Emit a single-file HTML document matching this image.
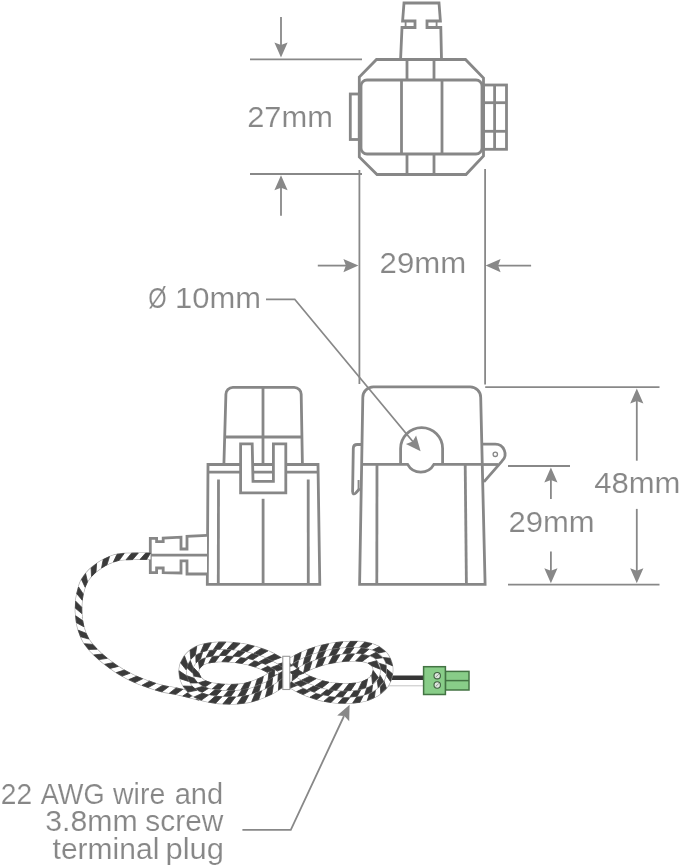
<!DOCTYPE html>
<html><head><meta charset="utf-8">
<style>
html,body{margin:0;padding:0;background:#fff;}
body{width:679px;height:868px;overflow:hidden;}
svg{display:block;}
text{font-family:"Liberation Sans",sans-serif;fill:#878787;font-size:29.5px;stroke:#fff;stroke-width:0.15px;}
</style></head>
<body>
<svg width="679" height="868" viewBox="0 0 679 868">
<!-- ===== TOP VIEW ===== -->
<g fill="none" stroke="#878787" stroke-width="2.8" stroke-linejoin="miter">
  <!-- top tab -->
  <path d="M400.6,59 L402,27.5 L415,27.5 L415,21 L402.6,21 L404,3 L439,3 L440.4,21 L427,21 L427,27.5 L440.8,27.5 L441.5,59"/>
  <line x1="405.6" y1="21" x2="405.6" y2="27.5" stroke-width="1.8"/>
  <line x1="436.6" y1="21" x2="436.6" y2="27.5" stroke-width="1.8"/>
  <!-- octagon -->
  <path d="M376.5,59.5 L465.5,59.5 L483.5,78 L483.5,156 L466,174.5 L377,174.5 L359.3,157 L359.3,77 Z"/>
  <!-- inner rounded rect -->
  <rect x="361" y="80" width="121" height="74" rx="6"/>
  <line x1="401.5" y1="80" x2="401.5" y2="154"/>
  <line x1="442" y1="80" x2="442" y2="154"/>
  <line x1="407" y1="59.5" x2="407" y2="80"/>
  <line x1="434" y1="59.5" x2="434" y2="80"/>
  <line x1="407" y1="154" x2="407" y2="174.5"/>
  <line x1="434" y1="154" x2="434" y2="174.5"/>
  <!-- left tab -->
  <rect x="350.3" y="94" width="9" height="45.5"/>
  <!-- right connector -->
  <rect x="483.5" y="85" width="23" height="64.3"/>
  <line x1="494.6" y1="85" x2="494.6" y2="149.3"/>
  <line x1="483.5" y1="102.7" x2="506.5" y2="102.7"/>
  <line x1="483.5" y1="131.3" x2="506.5" y2="131.3"/>
</g>

<!-- ===== DIMENSIONS ===== -->
<g fill="none" stroke="#888" stroke-width="1.8">
  <!-- 27mm -->
  <line x1="250" y1="59.4" x2="362" y2="59.4"/>
  <line x1="250" y1="174" x2="362" y2="174"/>
  <line x1="281" y1="16.9" x2="281" y2="46"/>
  <line x1="281" y1="187" x2="281" y2="215.7"/>
  <!-- ext lines -->
  <line x1="359.4" y1="170" x2="359.4" y2="384"/>
  <line x1="485.1" y1="169" x2="485.1" y2="384.6"/>
  <line x1="485.2" y1="387.2" x2="659.5" y2="387.2"/>
  <!-- 29mm top -->
  <line x1="317.8" y1="265.6" x2="347" y2="265.6"/>
  <line x1="497" y1="265.6" x2="531.1" y2="265.6"/>
  <!-- leader Ø -->
  <polyline points="266,299.3 294.7,299.3 413,441.8"/>
  <!-- 48mm -->
  <line x1="508" y1="584.6" x2="659.5" y2="584.6"/>
  <line x1="636.8" y1="400" x2="636.8" y2="460.7"/>
  <line x1="636.8" y1="508.9" x2="636.8" y2="571.5"/>
  <!-- 29mm lower -->
  <line x1="508" y1="466" x2="570" y2="466"/>
  <line x1="550.9" y1="479" x2="550.9" y2="498.9"/>
  <line x1="550.9" y1="551.6" x2="550.9" y2="571.5"/>
  <!-- bottom leader -->
  <polyline points="242.4,829.8 290.8,829.8 344,716"/>
</g>
<g fill="#888" stroke="none">
  <polygon points="281.0,57.6 274.4,42.6 281.0,45.1 287.6,42.6"/>
  <polygon points="281.0,175.3 287.6,190.3 281.0,187.8 274.4,190.3"/>
  <polygon points="358.4,265.6 343.4,272.2 345.9,265.6 343.4,259.0"/>
  <polygon points="485.6,265.6 500.6,259.0 498.1,265.6 500.6,272.2"/>
  <polygon points="636.8,388.4 643.4,403.4 636.8,400.9 630.2,403.4"/>
  <polygon points="636.8,583.3 630.2,568.3 636.8,570.8 643.4,568.3"/>
  <polygon points="550.9,467.4 557.5,482.4 550.9,479.9 544.3,482.4"/>
  <polygon points="550.9,583.3 544.3,568.3 550.9,570.8 557.5,568.3"/>
  <polygon points="420.6,451.2 405.9,443.9 412.6,441.6 416.1,435.4"/>
  <polygon points="349.6,704.8 349.2,721.2 344.3,716.1 337.2,715.6"/>
</g>

<!-- ===== SIDE VIEW CT ===== -->
<g fill="none" stroke="#878787" stroke-width="2.8">
  <path d="M223.9,464 L225.9,394.5 A7,7 0 0 1 232.9,387.3 L294.2,387.3 A7,7 0 0 1 301.2,394.5 L302.4,464"/>
  <line x1="263" y1="387.3" x2="263" y2="464"/>
  <line x1="225" y1="437" x2="301.6" y2="437"/>
  <path d="M208,464.5 L318,464.5 L319.8,584.3 L207.3,584.3 Z"/>
  <line x1="208" y1="472.2" x2="318" y2="472.2"/>
  <line x1="218.5" y1="479.6" x2="218.3" y2="584"/>
  <line x1="308.2" y1="479.6" x2="308.3" y2="584"/>
  <line x1="263.1" y1="498.8" x2="263.1" y2="584"/>
  <path d="M240.6,443.8 L252.2,443.8 L253,481.4 L273.4,481.4 L273.4,443.8 L285.8,443.8 L285.8,492.9 L240.6,492.9 Z" fill="#fff"/>
  <!-- connector -->
  <path d="M207,535.3 L187,536.3 L187,549 L181,549 L181,537.2 L163.2,538 L163.2,541.6 L156.6,541.6 L156.6,538.3 L150.3,538.3 L150.3,572.7 L156.6,572.7 L156.6,568 L163.2,568 L163.2,572.7 L181,573 L181,560.8 L187,560.8 L187,574 L207,574" fill="#fff"/>
  <line x1="150.3" y1="555.2" x2="207" y2="555.2"/>
</g>

<!-- ===== FRONT VIEW CT ===== -->
<g fill="none" stroke="#878787" stroke-width="2.8">
  <path d="M359.6,584.4 L362.8,397.5 A10.5,10.5 0 0 1 373.3,386.9 L470.2,386.9 A10.5,10.5 0 0 1 480.7,397.5 L485.1,584.4 Z"/>
  <path d="M361.2,464.4 L407.6,464.4 A15,15 0 0 0 433.9,464.4 L483,464.4"/>
  <path d="M400.6,464.4 L400.6,448.6 A21,21 0 0 1 442.6,448.6 L442.6,464.4"/>
  <line x1="377" y1="464.4" x2="376.8" y2="584.4"/>
  <line x1="465.2" y1="464.4" x2="466.4" y2="584.4"/>
  <!-- left tab -->
  <path d="M361,444.5 L357.3,444.5 Q353.3,444.5 353.3,448.5 L352.6,491.5 Q352.8,495.5 355.8,493 L359.8,488.5"/>
  <line x1="358.6" y1="480" x2="358.6" y2="490" stroke-width="2"/>
  <!-- right tab -->
  <path d="M482,444.2 L495,444.2 A9.8,9.8 0 0 1 502,461.1 L483.9,481.9"/>
  <line x1="483" y1="464.5" x2="498" y2="464.5"/>
  <circle cx="495.3" cy="454.3" r="2.2" stroke-width="1.3"/>
</g>

<!-- ===== TEXT ===== -->
<g style="filter:grayscale(1)">
<text x="247.2" y="126.6" textLength="85.8" lengthAdjust="spacingAndGlyphs">27mm</text>
<text x="379.6" y="272.8" textLength="86.6" lengthAdjust="spacingAndGlyphs">29mm</text>
<text x="148.2" y="308.3" textLength="18.4" lengthAdjust="spacingAndGlyphs">Ø</text>
<text x="175.0" y="308.3" textLength="86" lengthAdjust="spacingAndGlyphs">10mm</text>
<text x="594.2" y="493.2" textLength="86.3" lengthAdjust="spacingAndGlyphs">48mm</text>
<text x="508.6" y="531.6" textLength="86.1" lengthAdjust="spacingAndGlyphs">29mm</text>
<text x="0.75" y="803.6" textLength="31.35" lengthAdjust="spacingAndGlyphs">22</text>
<text x="40.7" y="803.6" textLength="63.85" lengthAdjust="spacingAndGlyphs">AWG</text>
<text x="113" y="803.6" textLength="52.26" lengthAdjust="spacingAndGlyphs">wire</text>
<text x="174.7" y="803.6" textLength="48.5" lengthAdjust="spacingAndGlyphs">and</text>
<text x="45.2" y="831.2" textLength="92.5" lengthAdjust="spacingAndGlyphs">3.8mm</text>
<text x="145.3" y="831.2" textLength="78.06" lengthAdjust="spacingAndGlyphs">screw</text>
<text x="52.6" y="858.9" textLength="106.7" lengthAdjust="spacingAndGlyphs">terminal</text>
<text x="165.5" y="858.9" textLength="58.46" lengthAdjust="spacingAndGlyphs">plug</text>
</g>

<!-- ===== WIRE ===== -->
<g id="wire" fill="none">
  <line x1="370" y1="677.8" x2="424" y2="677.8" stroke="#363636" stroke-width="4.6"/>
  <line x1="375" y1="685.8" x2="423" y2="685.8" stroke="#c4c4c4" stroke-width="1"/>
<path d="M150.5,556.2L146.4,556.2L142.1,556.2L137.9,556.2L133.9,556.3L130.3,556.4L127.1,556.5L124.2,556.6L121.5,556.8L118.9,557.1L116.2,557.7L113.3,558.6L110.4,559.7L107.6,560.9L104.8,562.3L102.1,563.8L99.6,565.4L97.1,567.2L94.7,569.0L92.5,570.9L90.6,572.7L88.9,574.5L87.4,576.2L86.2,578.0L85.0,579.7L84.0,581.5L83.1,583.3L82.4,585.0L81.9,586.8L81.4,588.5L80.9,590.3L80.4,592.1L80.0,593.8L79.7,595.5L79.4,597.3L79.1,599.2L78.9,601.2L78.7,603.2L78.6,605.2L78.5,607.3L78.5,609.4L78.5,611.5L78.7,613.6L78.8,615.8L79.0,617.9L79.3,620.0L79.6,622.0L80.0,624.1L80.4,626.1L80.9,628.0L81.5,630.0L82.2,632.0L82.9,633.9L83.7,635.9L84.6,637.7L85.5,639.5L86.4,641.1L87.3,642.5L88.3,644.0L89.5,645.4L90.9,647.1L92.5,649.0L94.4,650.9L96.4,653.0L98.7,655.2L101.2,657.4L104.1,659.8L107.3,662.4L110.8,665.0L114.3,667.5L117.7,669.8L121.1,671.9L124.5,673.8L127.9,675.6L131.2,677.3L134.4,678.8L137.3,680.1L140.1,681.2L142.7,682.2L145.4,683.2L148.1,684.1L150.9,685.1L153.7,686.0L156.5,687.0L159.4,687.8L162.2,688.6L165.0,689.2L167.9,689.7L170.8,690.2L173.6,690.7L176.4,691.2L179.2,691.8L182.1,692.5L184.8,693.2L187.5,693.9L190.0,694.5L192.2,695.1L194.3,695.6L196.2,696.0L198.1,696.5L200.0,697.0" stroke="#a3a3a3" stroke-width="7.5"/><path d="M150.5,556.2L146.4,556.2L142.1,556.2L137.9,556.2L133.9,556.3L130.3,556.4L127.1,556.5L124.2,556.6L121.5,556.8L118.9,557.1L116.2,557.7L113.3,558.6L110.4,559.7L107.6,560.9L104.8,562.3L102.1,563.8L99.6,565.4L97.1,567.2L94.7,569.0L92.5,570.9L90.6,572.7L88.9,574.5L87.4,576.2L86.2,578.0L85.0,579.7L84.0,581.5L83.1,583.3L82.4,585.0L81.9,586.8L81.4,588.5L80.9,590.3L80.4,592.1L80.0,593.8L79.7,595.5L79.4,597.3L79.1,599.2L78.9,601.2L78.7,603.2L78.6,605.2L78.5,607.3L78.5,609.4L78.5,611.5L78.7,613.6L78.8,615.8L79.0,617.9L79.3,620.0L79.6,622.0L80.0,624.1L80.4,626.1L80.9,628.0L81.5,630.0L82.2,632.0L82.9,633.9L83.7,635.9L84.6,637.7L85.5,639.5L86.4,641.1L87.3,642.5L88.3,644.0L89.5,645.4L90.9,647.1L92.5,649.0L94.4,650.9L96.4,653.0L98.7,655.2L101.2,657.4L104.1,659.8L107.3,662.4L110.8,665.0L114.3,667.5L117.7,669.8L121.1,671.9L124.5,673.8L127.9,675.6L131.2,677.3L134.4,678.8L137.3,680.1L140.1,681.2L142.7,682.2L145.4,683.2L148.1,684.1L150.9,685.1L153.7,686.0L156.5,687.0L159.4,687.8L162.2,688.6L165.0,689.2L167.9,689.7L170.8,690.2L173.6,690.7L176.4,691.2L179.2,691.8L182.1,692.5L184.8,693.2L187.5,693.9L190.0,694.5L192.2,695.1L194.3,695.6L196.2,696.0L198.1,696.5L200.0,697.0" stroke="#fff" stroke-width="6.3"/><path d="M150.5,553.1L145.6,553.1L140.0,559.4L146.7,559.4Z M138.3,553.1L131.5,553.2L126.1,559.7L132.8,559.5Z M124.2,553.5L117.0,554.3L113.4,561.9L119.3,560.3Z M109.5,556.6L103.2,559.6L101.6,567.9L107.0,564.7Z M96.6,563.6L91.1,568.0L91.5,576.4L96.0,572.0Z M85.6,573.5L81.5,579.5L85.1,587.2L87.5,581.7Z M78.6,587.0L76.8,593.7L82.2,600.2L83.2,593.9Z M75.7,601.2L75.4,608.2L81.8,613.6L81.7,607.2Z M75.7,615.8L76.5,622.7L83.9,626.8L82.6,620.6Z M78.3,630.2L80.7,636.8L88.8,639.0L86.1,633.3Z M84.3,643.7L88.7,649.4L97.1,649.2L92.8,644.4Z M93.8,654.9L98.9,659.6L107.3,658.3L102.2,654.1Z M104.7,664.3L110.1,668.4L118.3,666.4L112.9,662.7Z M116.3,672.6L122.2,676.1L130.1,673.2L124.3,670.1Z M128.8,679.6L135.0,682.5L142.6,678.8L136.6,676.3Z M142.0,685.3L148.3,687.5L155.7,683.4L149.4,681.2Z M155.3,689.9L162.0,691.8L168.7,686.7L162.4,685.4Z M169.4,693.2L175.9,694.3L182.7,689.4L176.0,687.9Z M182.8,696.0L189.3,697.6L196.3,692.8L189.8,691.2Z M196.4,699.3L199.2,700.1L200.8,693.9L200.8,693.9Z" fill="#3a3a3a" stroke="#3a3a3a" stroke-width="0.8" stroke-linejoin="round"/>
<path d="M282.4,667.8L283.2,667.2L284.1,666.6L285.0,665.9L286.0,665.2L287.0,664.4L288.1,663.7L289.2,662.9L290.4,662.1L291.6,661.3L292.8,660.6L293.9,659.9L295.1,659.2L296.3,658.6L297.5,657.9L298.7,657.3L300.0,656.7L301.3,656.0L302.7,655.4L304.2,654.8L305.7,654.1L307.2,653.5L308.8,652.9L310.5,652.3L312.2,651.7L314.0,651.1L315.8,650.5L317.7,649.9L319.7,649.4L321.6,648.8L323.6,648.4L325.6,647.9L327.6,647.5L329.6,647.1L331.7,646.7L333.9,646.4L336.0,646.1L338.2,645.8L340.3,645.6L342.5,645.4L344.6,645.2L346.7,645.1L348.9,645.0L351.1,644.9L353.3,644.9L355.5,644.9L357.7,644.9L359.9,645.0L362.1,645.2L364.2,645.5L366.2,645.8L368.1,646.2L369.9,646.7L371.7,647.3L373.4,647.9L375.1,648.6L376.7,649.4L378.2,650.3L379.7,651.2L381.0,652.3L382.3,653.4L383.6,654.7L384.7,656.0L385.7,657.5L386.5,658.9L387.3,660.5L388.0,662.1L388.5,663.7L388.9,665.3L389.2,667.0L389.3,668.7L389.3,670.4L389.2,672.1L389.0,673.8L388.7,675.6L388.2,677.3L387.7,679.1L387.0,680.9L386.1,682.6L385.1,684.3L383.9,686.0L382.6,687.4L381.2,688.8L379.7,690.1L378.1,691.3L376.4,692.5L374.6,693.5L372.8,694.5L370.9,695.4L369.0,696.2L367.0,697.0L364.9,697.6L362.7,698.1L360.5,698.6L358.3,698.9L356.1,699.2L353.8,699.4L351.6,699.6L349.4,699.7L347.2,699.8L345.1,699.8L342.9,699.8L340.7,699.7L338.5,699.6L336.3,699.5L334.2,699.3L332.0,699.0L329.9,698.7L327.8,698.4L325.7,698.1L323.7,697.7L321.7,697.2L319.7,696.7L317.7,696.2L315.8,695.6L314.0,695.0L312.2,694.3L310.4,693.7L308.8,693.1L307.2,692.5L305.7,691.8L304.2,691.2L302.7,690.6L301.3,690.0L300.0,689.3L298.7,688.7L297.5,688.1L296.3,687.4L295.1,686.8L293.9,686.1L292.8,685.4L291.6,684.7L290.4,683.9L289.3,683.2L288.2,682.4L287.2,681.7L286.2,680.9L285.2,680.2L284.2,679.5L283.3,678.8L282.3,678.1L281.3,677.4L280.3,676.7L279.4,675.9L278.4,675.2L277.5,674.6L276.6,673.9L275.7,673.3L274.8,672.7L273.8,672.1L272.8,671.4L271.6,670.7L270.4,670.0L269.2,669.3L268.0,668.7L266.7,668.0L265.4,667.3L264.1,666.7L262.7,666.1L261.3,665.5L259.8,664.9L258.2,664.3L256.4,663.7L254.6,663.1L252.8,662.5L250.9,662.0L249.0,661.4L247.0,660.9L245.0,660.5L243.0,660.1L241.0,659.7L238.9,659.4L236.6,659.1L234.3,658.8L231.9,658.6L229.5,658.4L227.1,658.3L224.8,658.2L222.5,658.2L220.4,658.2L218.3,658.3L216.3,658.4L214.4,658.6L212.4,658.8L210.6,659.1L208.8,659.4L207.1,659.8L205.6,660.2L204.2,660.6L203.0,661.1L201.9,661.6L201.0,662.1L200.1,662.7L199.3,663.4L198.5,664.2L197.8,665.0L197.2,665.8L196.6,666.6L196.1,667.5L195.8,668.3L195.5,669.0L195.3,669.6L195.2,670.3L195.1,671.1L195.1,671.9L195.2,672.8L195.4,673.7L195.6,674.6L195.9,675.4L196.2,676.3L196.5,677.0L197.0,677.8L197.5,678.6L198.2,679.4L198.9,680.2L199.7,681.0L200.5,681.7L201.4,682.4L202.4,683.1L203.5,683.7L204.6,684.3L205.8,684.8L207.3,685.3L208.8,685.7L210.5,686.1L212.4,686.5L214.3,686.8L216.2,687.1L218.3,687.4L220.3,687.6L222.4,687.7L224.6,687.8L226.8,687.9L229.1,688.0L231.4,687.9L233.8,687.9L236.1,687.8L238.4,687.6L240.7,687.4L242.8,687.1L244.9,686.8L246.8,686.4L248.7,685.9L250.7,685.3L252.6,684.7L254.5,684.0L256.4,683.3L258.3,682.5L260.1,681.8L261.8,681.0L263.3,680.3L264.7,679.6L265.9,679.0L267.1,678.3L268.2,677.6L269.2,676.9L270.3,676.2L271.3,675.5L272.4,674.7L273.4,674.0L274.5,673.2L275.5,672.6L276.3,672.1L277.1,671.5L277.8,671.0L278.5,670.6L279.2,670.1L280.0,669.5L280.7,669.0L281.5,668.4Z" stroke="#a3a3a3" stroke-width="8.1"/><path d="M282.4,667.8L283.2,667.2L284.1,666.6L285.0,665.9L286.0,665.2L287.0,664.4L288.1,663.7L289.2,662.9L290.4,662.1L291.6,661.3L292.8,660.6L293.9,659.9L295.1,659.2L296.3,658.6L297.5,657.9L298.7,657.3L300.0,656.7L301.3,656.0L302.7,655.4L304.2,654.8L305.7,654.1L307.2,653.5L308.8,652.9L310.5,652.3L312.2,651.7L314.0,651.1L315.8,650.5L317.7,649.9L319.7,649.4L321.6,648.8L323.6,648.4L325.6,647.9L327.6,647.5L329.6,647.1L331.7,646.7L333.9,646.4L336.0,646.1L338.2,645.8L340.3,645.6L342.5,645.4L344.6,645.2L346.7,645.1L348.9,645.0L351.1,644.9L353.3,644.9L355.5,644.9L357.7,644.9L359.9,645.0L362.1,645.2L364.2,645.5L366.2,645.8L368.1,646.2L369.9,646.7L371.7,647.3L373.4,647.9L375.1,648.6L376.7,649.4L378.2,650.3L379.7,651.2L381.0,652.3L382.3,653.4L383.6,654.7L384.7,656.0L385.7,657.5L386.5,658.9L387.3,660.5L388.0,662.1L388.5,663.7L388.9,665.3L389.2,667.0L389.3,668.7L389.3,670.4L389.2,672.1L389.0,673.8L388.7,675.6L388.2,677.3L387.7,679.1L387.0,680.9L386.1,682.6L385.1,684.3L383.9,686.0L382.6,687.4L381.2,688.8L379.7,690.1L378.1,691.3L376.4,692.5L374.6,693.5L372.8,694.5L370.9,695.4L369.0,696.2L367.0,697.0L364.9,697.6L362.7,698.1L360.5,698.6L358.3,698.9L356.1,699.2L353.8,699.4L351.6,699.6L349.4,699.7L347.2,699.8L345.1,699.8L342.9,699.8L340.7,699.7L338.5,699.6L336.3,699.5L334.2,699.3L332.0,699.0L329.9,698.7L327.8,698.4L325.7,698.1L323.7,697.7L321.7,697.2L319.7,696.7L317.7,696.2L315.8,695.6L314.0,695.0L312.2,694.3L310.4,693.7L308.8,693.1L307.2,692.5L305.7,691.8L304.2,691.2L302.7,690.6L301.3,690.0L300.0,689.3L298.7,688.7L297.5,688.1L296.3,687.4L295.1,686.8L293.9,686.1L292.8,685.4L291.6,684.7L290.4,683.9L289.3,683.2L288.2,682.4L287.2,681.7L286.2,680.9L285.2,680.2L284.2,679.5L283.3,678.8L282.3,678.1L281.3,677.4L280.3,676.7L279.4,675.9L278.4,675.2L277.5,674.6L276.6,673.9L275.7,673.3L274.8,672.7L273.8,672.1L272.8,671.4L271.6,670.7L270.4,670.0L269.2,669.3L268.0,668.7L266.7,668.0L265.4,667.3L264.1,666.7L262.7,666.1L261.3,665.5L259.8,664.9L258.2,664.3L256.4,663.7L254.6,663.1L252.8,662.5L250.9,662.0L249.0,661.4L247.0,660.9L245.0,660.5L243.0,660.1L241.0,659.7L238.9,659.4L236.6,659.1L234.3,658.8L231.9,658.6L229.5,658.4L227.1,658.3L224.8,658.2L222.5,658.2L220.4,658.2L218.3,658.3L216.3,658.4L214.4,658.6L212.4,658.8L210.6,659.1L208.8,659.4L207.1,659.8L205.6,660.2L204.2,660.6L203.0,661.1L201.9,661.6L201.0,662.1L200.1,662.7L199.3,663.4L198.5,664.2L197.8,665.0L197.2,665.8L196.6,666.6L196.1,667.5L195.8,668.3L195.5,669.0L195.3,669.6L195.2,670.3L195.1,671.1L195.1,671.9L195.2,672.8L195.4,673.7L195.6,674.6L195.9,675.4L196.2,676.3L196.5,677.0L197.0,677.8L197.5,678.6L198.2,679.4L198.9,680.2L199.7,681.0L200.5,681.7L201.4,682.4L202.4,683.1L203.5,683.7L204.6,684.3L205.8,684.8L207.3,685.3L208.8,685.7L210.5,686.1L212.4,686.5L214.3,686.8L216.2,687.1L218.3,687.4L220.3,687.6L222.4,687.7L224.6,687.8L226.8,687.9L229.1,688.0L231.4,687.9L233.8,687.9L236.1,687.8L238.4,687.6L240.7,687.4L242.8,687.1L244.9,686.8L246.8,686.4L248.7,685.9L250.7,685.3L252.6,684.7L254.5,684.0L256.4,683.3L258.3,682.5L260.1,681.8L261.8,681.0L263.3,680.3L264.7,679.6L265.9,679.0L267.1,678.3L268.2,677.6L269.2,676.9L270.3,676.2L271.3,675.5L272.4,674.7L273.4,674.0L274.5,673.2L275.5,672.6L276.3,672.1L277.1,671.5L277.8,671.0L278.5,670.6L279.2,670.1L280.0,669.5L280.7,669.0L281.5,668.4Z" stroke="#fff" stroke-width="6.9"/><path d="M284.4,670.7L287.8,668.1L288.4,659.3L282.6,663.4Z M293.4,664.3L299.2,660.9L301.2,652.3L294.7,655.5Z M305.2,658.1L311.6,655.6L314.7,647.2L307.9,649.6Z M318.1,653.4L324.6,651.7L328.7,643.8L321.6,645.3Z M331.3,650.3L338.0,649.3L342.9,641.9L335.8,642.6Z M344.8,648.7L351.6,648.4L357.3,641.5L350.1,641.5Z M358.4,648.4L364.9,649.1L372.0,643.8L364.6,642.1Z M371.1,650.7L376.7,653.4L385.4,651.6L379.1,646.8Z M381.2,657.3L384.3,662.3L392.5,665.8L390.0,658.2Z M385.8,668.1L385.4,674.1L390.5,681.4L392.5,673.8Z M383.6,679.9L380.3,684.8L380.7,693.6L386.4,688.3Z M375.6,688.9L370.0,692.0L367.3,700.5L374.3,697.6Z M364.0,694.3L357.6,695.5L352.7,703.0L360.0,702.2Z M350.9,696.2L344.1,696.3L338.3,703.1L345.5,703.2Z M337.4,696.1L330.6,695.4L324.0,701.2L331.1,702.4Z M324.0,694.2L317.5,692.5L310.0,697.2L316.8,699.5Z M311.1,690.3L304.7,687.7L296.7,691.6L303.3,694.6Z M298.7,684.8L292.9,681.4L284.4,683.9L290.4,688.0Z M287.4,677.5L281.7,673.4L273.2,675.7L278.7,679.8Z M275.8,669.2L269.5,665.6L261.5,669.3L267.4,672.3Z M262.9,662.4L256.1,659.9L248.7,664.9L255.2,666.9Z M249.1,657.9L242.0,656.4L235.5,662.5L242.2,663.4Z M234.8,655.4L227.7,654.9L221.9,661.6L228.7,661.9Z M220.4,654.8L213.1,655.3L208.7,662.9L215.2,662.0Z M205.8,656.5L198.2,659.9L199.5,668.6L203.2,664.8Z M192.7,666.6L192.4,675.8L201.0,677.4L198.7,672.9Z M197.0,683.2L203.9,687.7L211.3,682.8L205.5,680.8Z M211.3,689.8L218.5,690.8L224.6,684.4L217.9,683.8Z M225.7,691.3L232.9,691.4L238.1,684.2L231.4,684.5Z M240.2,690.9L247.5,689.8L251.0,681.6L244.7,683.3Z M254.6,687.7L261.3,685.0L263.4,676.4L257.3,679.2Z M267.9,681.8L274.1,677.8L274.8,668.9L268.9,672.9Z M279.8,673.8L284.4,670.7L280.4,665.0L280.4,665.0Z" fill="#3a3a3a" stroke="#3a3a3a" stroke-width="0.8" stroke-linejoin="round"/>
<path d="M286.0,673.0L286.9,672.4L287.8,671.7L288.8,671.0L289.8,670.3L290.8,669.5L291.8,668.8L292.8,668.1L293.8,667.4L294.9,666.7L296.0,666.0L297.1,665.4L298.2,664.7L299.3,664.1L300.4,663.5L301.6,662.9L302.7,662.3L304.0,661.7L305.2,661.2L306.6,660.6L308.0,660.0L309.5,659.4L311.0,658.8L312.6,658.2L314.3,657.6L316.0,657.1L317.7,656.5L319.5,656.0L321.3,655.4L323.2,654.9L325.0,654.5L326.9,654.1L328.8,653.7L330.8,653.3L332.8,653.0L334.8,652.6L336.9,652.3L338.9,652.1L341.0,651.8L343.0,651.6L345.0,651.5L347.0,651.4L349.1,651.3L351.2,651.2L353.3,651.2L355.4,651.2L357.5,651.2L359.5,651.3L361.4,651.5L363.3,651.7L365.0,652.0L366.6,652.4L368.2,652.8L369.7,653.2L371.1,653.8L372.4,654.3L373.7,655.0L374.9,655.7L376.0,656.4L377.1,657.2L378.0,658.0L378.9,658.9L379.7,659.8L380.4,660.9L381.0,661.9L381.6,663.1L382.0,664.2L382.4,665.4L382.7,666.6L382.9,667.8L383.0,669.0L383.0,670.2L382.9,671.5L382.8,672.9L382.5,674.2L382.2,675.6L381.8,677.0L381.2,678.3L380.6,679.6L379.8,680.9L379.0,682.0L378.0,683.1L376.9,684.2L375.7,685.2L374.4,686.2L373.0,687.2L371.5,688.1L370.0,688.9L368.3,689.7L366.7,690.4L365.0,691.0L363.2,691.5L361.4,692.0L359.4,692.4L357.4,692.7L355.4,692.9L353.3,693.1L351.2,693.3L349.1,693.4L347.0,693.5L345.0,693.5L343.0,693.5L341.0,693.4L338.9,693.3L336.9,693.2L334.8,693.0L332.8,692.8L330.8,692.5L328.8,692.2L326.9,691.9L325.0,691.5L323.2,691.1L321.3,690.6L319.5,690.1L317.7,689.6L316.0,689.0L314.3,688.4L312.6,687.8L311.0,687.2L309.5,686.6L308.0,686.0L306.6,685.4L305.2,684.8L304.0,684.3L302.7,683.7L301.6,683.1L300.4,682.5L299.3,681.9L298.2,681.3L297.1,680.6L296.0,680.0L294.9,679.3L293.9,678.7L292.9,678.0L291.9,677.3L290.9,676.6L289.9,675.8L288.9,675.1L288.0,674.4L287.0,673.7L286.0,673.0L285.0,672.3L284.1,671.6L283.1,670.9L282.2,670.2L281.2,669.5L280.3,668.8L279.3,668.1L278.3,667.4L277.2,666.7L276.0,666.0L274.8,665.3L273.6,664.6L272.3,663.9L271.0,663.1L269.6,662.4L268.2,661.7L266.8,661.0L265.2,660.3L263.7,659.6L262.0,659.0L260.3,658.4L258.4,657.7L256.6,657.1L254.6,656.5L252.6,655.9L250.6,655.3L248.5,654.8L246.4,654.3L244.2,653.9L242.0,653.5L239.7,653.2L237.4,652.9L234.9,652.6L232.4,652.3L229.9,652.2L227.4,652.0L225.0,651.9L222.5,651.9L220.2,651.9L218.0,652.0L215.9,652.1L213.7,652.3L211.6,652.6L209.6,652.9L207.6,653.2L205.7,653.6L203.8,654.1L202.1,654.7L200.5,655.3L199.0,656.0L197.6,656.8L196.3,657.7L195.1,658.7L194.0,659.8L193.0,660.9L192.1,662.1L191.2,663.3L190.5,664.6L190.0,665.8L189.5,667.0L189.2,668.2L188.9,669.5L188.8,670.8L188.9,672.2L189.0,673.6L189.2,674.9L189.5,676.3L189.9,677.6L190.4,678.8L191.0,680.0L191.7,681.1L192.4,682.3L193.3,683.4L194.3,684.5L195.3,685.6L196.5,686.6L197.7,687.5L199.1,688.4L200.5,689.3L202.0,690.0L203.6,690.7L205.4,691.3L207.2,691.8L209.2,692.3L211.2,692.7L213.3,693.0L215.4,693.4L217.6,693.6L219.8,693.8L222.0,694.0L224.3,694.1L226.6,694.2L229.0,694.3L231.5,694.2L234.0,694.2L236.5,694.1L239.0,693.9L241.4,693.7L243.7,693.4L246.0,693.0L248.2,692.5L250.4,692.0L252.5,691.4L254.7,690.7L256.8,689.9L258.8,689.1L260.7,688.3L262.6,687.5L264.3,686.7L266.0,686.0L267.5,685.3L269.0,684.5L270.3,683.7L271.6,682.9L272.8,682.2L273.9,681.4L274.9,680.6L276.0,679.9L277.0,679.2L278.0,678.5L279.0,677.9L279.8,677.3L280.6,676.8L281.4,676.2L282.1,675.7L282.8,675.2L283.6,674.7L284.3,674.2L285.1,673.6Z" stroke="#a3a3a3" stroke-width="8.1"/><path d="M286.0,673.0L286.9,672.4L287.8,671.7L288.8,671.0L289.8,670.3L290.8,669.5L291.8,668.8L292.8,668.1L293.8,667.4L294.9,666.7L296.0,666.0L297.1,665.4L298.2,664.7L299.3,664.1L300.4,663.5L301.6,662.9L302.7,662.3L304.0,661.7L305.2,661.2L306.6,660.6L308.0,660.0L309.5,659.4L311.0,658.8L312.6,658.2L314.3,657.6L316.0,657.1L317.7,656.5L319.5,656.0L321.3,655.4L323.2,654.9L325.0,654.5L326.9,654.1L328.8,653.7L330.8,653.3L332.8,653.0L334.8,652.6L336.9,652.3L338.9,652.1L341.0,651.8L343.0,651.6L345.0,651.5L347.0,651.4L349.1,651.3L351.2,651.2L353.3,651.2L355.4,651.2L357.5,651.2L359.5,651.3L361.4,651.5L363.3,651.7L365.0,652.0L366.6,652.4L368.2,652.8L369.7,653.2L371.1,653.8L372.4,654.3L373.7,655.0L374.9,655.7L376.0,656.4L377.1,657.2L378.0,658.0L378.9,658.9L379.7,659.8L380.4,660.9L381.0,661.9L381.6,663.1L382.0,664.2L382.4,665.4L382.7,666.6L382.9,667.8L383.0,669.0L383.0,670.2L382.9,671.5L382.8,672.9L382.5,674.2L382.2,675.6L381.8,677.0L381.2,678.3L380.6,679.6L379.8,680.9L379.0,682.0L378.0,683.1L376.9,684.2L375.7,685.2L374.4,686.2L373.0,687.2L371.5,688.1L370.0,688.9L368.3,689.7L366.7,690.4L365.0,691.0L363.2,691.5L361.4,692.0L359.4,692.4L357.4,692.7L355.4,692.9L353.3,693.1L351.2,693.3L349.1,693.4L347.0,693.5L345.0,693.5L343.0,693.5L341.0,693.4L338.9,693.3L336.9,693.2L334.8,693.0L332.8,692.8L330.8,692.5L328.8,692.2L326.9,691.9L325.0,691.5L323.2,691.1L321.3,690.6L319.5,690.1L317.7,689.6L316.0,689.0L314.3,688.4L312.6,687.8L311.0,687.2L309.5,686.6L308.0,686.0L306.6,685.4L305.2,684.8L304.0,684.3L302.7,683.7L301.6,683.1L300.4,682.5L299.3,681.9L298.2,681.3L297.1,680.6L296.0,680.0L294.9,679.3L293.9,678.7L292.9,678.0L291.9,677.3L290.9,676.6L289.9,675.8L288.9,675.1L288.0,674.4L287.0,673.7L286.0,673.0L285.0,672.3L284.1,671.6L283.1,670.9L282.2,670.2L281.2,669.5L280.3,668.8L279.3,668.1L278.3,667.4L277.2,666.7L276.0,666.0L274.8,665.3L273.6,664.6L272.3,663.9L271.0,663.1L269.6,662.4L268.2,661.7L266.8,661.0L265.2,660.3L263.7,659.6L262.0,659.0L260.3,658.4L258.4,657.7L256.6,657.1L254.6,656.5L252.6,655.9L250.6,655.3L248.5,654.8L246.4,654.3L244.2,653.9L242.0,653.5L239.7,653.2L237.4,652.9L234.9,652.6L232.4,652.3L229.9,652.2L227.4,652.0L225.0,651.9L222.5,651.9L220.2,651.9L218.0,652.0L215.9,652.1L213.7,652.3L211.6,652.6L209.6,652.9L207.6,653.2L205.7,653.6L203.8,654.1L202.1,654.7L200.5,655.3L199.0,656.0L197.6,656.8L196.3,657.7L195.1,658.7L194.0,659.8L193.0,660.9L192.1,662.1L191.2,663.3L190.5,664.6L190.0,665.8L189.5,667.0L189.2,668.2L188.9,669.5L188.8,670.8L188.9,672.2L189.0,673.6L189.2,674.9L189.5,676.3L189.9,677.6L190.4,678.8L191.0,680.0L191.7,681.1L192.4,682.3L193.3,683.4L194.3,684.5L195.3,685.6L196.5,686.6L197.7,687.5L199.1,688.4L200.5,689.3L202.0,690.0L203.6,690.7L205.4,691.3L207.2,691.8L209.2,692.3L211.2,692.7L213.3,693.0L215.4,693.4L217.6,693.6L219.8,693.8L222.0,694.0L224.3,694.1L226.6,694.2L229.0,694.3L231.5,694.2L234.0,694.2L236.5,694.1L239.0,693.9L241.4,693.7L243.7,693.4L246.0,693.0L248.2,692.5L250.4,692.0L252.5,691.4L254.7,690.7L256.8,689.9L258.8,689.1L260.7,688.3L262.6,687.5L264.3,686.7L266.0,686.0L267.5,685.3L269.0,684.5L270.3,683.7L271.6,682.9L272.8,682.2L273.9,681.4L274.9,680.6L276.0,679.9L277.0,679.2L278.0,678.5L279.0,677.9L279.8,677.3L280.6,676.8L281.4,676.2L282.1,675.7L282.8,675.2L283.6,674.7L284.3,674.2L285.1,673.6Z" stroke="#fff" stroke-width="6.9"/><path d="M291.4,673.3L297.0,669.5L298.4,660.7L292.1,664.4Z M302.8,666.1L308.9,663.4L311.6,654.9L304.9,657.5Z M315.3,661.0L321.7,658.9L325.5,650.9L318.5,652.7Z M328.3,657.3L335.0,656.1L339.7,648.5L332.5,649.5Z M341.8,655.2L348.6,654.8L354.0,647.7L346.8,647.9Z M355.4,654.6L362.0,655.0L368.8,649.4L361.3,648.0Z M368.2,656.4L373.6,658.9L382.4,657.8L376.1,652.3Z M377.5,662.8L379.4,668.0L386.1,673.6L386.0,665.4Z M379.1,673.7L377.0,679.0L378.2,687.6L383.6,681.4Z M372.8,683.1L367.4,686.3L364.6,694.7L371.7,691.9Z M361.5,688.4L355.0,689.5L350.0,696.8L357.3,696.2Z M348.3,690.0L341.6,690.0L335.5,696.5L342.8,696.9Z M334.8,689.5L328.1,688.6L321.2,694.2L328.4,695.6Z M321.6,687.1L315.2,685.1L307.5,689.5L314.2,692.0Z M308.8,682.6L302.7,679.8L294.5,683.1L300.9,686.6Z M296.9,676.5L291.4,672.6L282.8,674.9L288.4,679.0Z M285.7,668.5L279.9,664.3L271.5,667.4L277.2,670.8Z M273.6,660.7L267.1,657.4L259.3,661.7L265.5,664.2Z M260.3,654.7L253.5,652.6L246.3,657.9L252.9,659.6Z M246.4,650.8L239.3,649.6L232.9,655.9L239.7,656.6Z M232.1,648.9L224.9,648.5L219.4,655.4L226.1,655.4Z M217.7,648.6L210.4,649.3L206.2,657.1L212.7,655.9Z M203.1,650.7L195.8,653.9L196.0,662.7L200.5,659.1Z M189.8,659.4L186.0,666.8L192.4,672.9L193.0,667.6Z M185.7,675.3L188.7,683.0L197.6,682.9L194.0,678.3Z M194.0,689.0L200.8,693.2L208.3,688.5L202.5,686.4Z M208.1,695.6L215.3,696.8L221.5,690.5L214.8,689.8Z M222.5,697.5L229.7,697.7L235.1,690.7L228.3,690.8Z M236.9,697.5L244.1,696.8L248.3,689.0L241.8,690.1Z M251.4,695.3L258.4,693.0L261.0,684.5L254.7,687.0Z M265.0,690.2L271.6,687.0L272.6,678.1L267.0,681.6Z M277.7,682.9L283.4,679.0L284.0,670.2L278.4,674.1Z" fill="#3a3a3a" stroke="#3a3a3a" stroke-width="0.8" stroke-linejoin="round"/>
<path d="M289.6,678.2L290.6,677.5L291.6,676.8L292.5,676.0L293.5,675.3L294.5,674.6L295.4,673.9L296.4,673.3L297.3,672.6L298.3,672.0L299.2,671.4L300.3,670.8L301.3,670.2L302.3,669.6L303.4,669.1L304.4,668.5L305.5,668.0L306.6,667.4L307.8,666.9L309.0,666.4L310.3,665.9L311.8,665.3L313.2,664.7L314.8,664.2L316.4,663.6L318.0,663.0L319.6,662.5L321.3,662.0L323.0,661.5L324.7,661.1L326.4,660.6L328.2,660.2L330.0,659.9L331.9,659.5L333.8,659.2L335.8,658.9L337.7,658.6L339.7,658.3L341.6,658.1L343.5,657.9L345.4,657.8L347.4,657.7L349.4,657.6L351.4,657.5L353.4,657.5L355.4,657.5L357.3,657.5L359.1,657.6L360.8,657.8L362.4,657.9L363.8,658.2L365.1,658.5L366.4,658.8L367.6,659.2L368.8,659.6L369.8,660.1L370.8,660.5L371.6,661.0L372.4,661.5L373.1,662.1L373.7,662.6L374.2,663.1L374.6,663.7L375.1,664.3L375.5,665.0L375.8,665.7L376.1,666.4L376.4,667.1L376.5,667.8L376.6,668.6L376.7,669.3L376.7,670.1L376.7,671.0L376.5,671.9L376.4,672.9L376.1,673.9L375.8,674.9L375.5,675.8L375.1,676.6L374.6,677.4L374.1,678.0L373.5,678.7L372.7,679.5L371.8,680.3L370.7,681.1L369.6,681.9L368.4,682.6L367.1,683.3L365.7,683.9L364.4,684.5L363.0,685.0L361.6,685.5L360.0,685.8L358.3,686.2L356.6,686.4L354.7,686.7L352.8,686.9L350.8,687.0L348.8,687.1L346.9,687.2L344.9,687.2L343.1,687.2L341.2,687.1L339.3,687.1L337.4,686.9L335.5,686.7L333.6,686.5L331.7,686.3L329.8,686.0L328.0,685.7L326.3,685.3L324.6,685.0L323.0,684.5L321.3,684.1L319.7,683.6L318.0,683.0L316.4,682.5L314.8,681.9L313.3,681.3L311.8,680.7L310.3,680.2L309.0,679.6L307.8,679.1L306.6,678.6L305.5,678.0L304.4,677.5L303.4,676.9L302.3,676.4L301.3,675.8L300.3,675.2L299.2,674.6L298.3,674.0L297.3,673.4L296.4,672.8L295.5,672.1L294.6,671.5L293.6,670.8L292.7,670.1L291.7,669.3L290.7,668.6L289.7,667.9L288.7,667.2L287.8,666.5L286.9,665.9L286.0,665.2L285.0,664.4L284.0,663.7L282.9,662.9L281.7,662.1L280.5,661.3L279.2,660.6L278.0,659.8L276.7,659.1L275.4,658.4L274.0,657.6L272.5,656.8L271.0,656.0L269.4,655.3L267.8,654.5L266.0,653.8L264.2,653.1L262.4,652.4L260.5,651.8L258.5,651.1L256.5,650.5L254.4,649.9L252.2,649.3L250.0,648.7L247.7,648.2L245.4,647.7L243.0,647.3L240.6,646.9L238.1,646.6L235.6,646.3L233.0,646.1L230.4,645.9L227.7,645.7L225.1,645.6L222.6,645.6L220.1,645.6L217.7,645.7L215.4,645.9L213.1,646.1L210.8,646.3L208.6,646.6L206.4,647.0L204.2,647.5L202.1,648.1L200.0,648.7L198.0,649.5L196.1,650.4L194.2,651.5L192.5,652.7L190.9,654.0L189.5,655.4L188.1,656.9L186.9,658.4L185.9,660.0L185.0,661.6L184.2,663.3L183.5,665.0L183.0,666.9L182.7,668.8L182.5,670.6L182.6,672.5L182.7,674.3L183.0,676.2L183.4,677.9L184.0,679.7L184.7,681.4L185.5,683.0L186.4,684.5L187.4,686.0L188.5,687.4L189.7,688.8L191.0,690.2L192.5,691.4L194.1,692.6L195.7,693.8L197.5,694.8L199.4,695.7L201.4,696.6L203.5,697.3L205.6,697.9L207.8,698.4L210.0,698.9L212.3,699.3L214.6,699.6L216.9,699.9L219.2,700.1L221.6,700.3L224.0,700.4L226.4,700.5L229.0,700.6L231.6,700.5L234.2,700.5L236.9,700.4L239.5,700.2L242.1,699.9L244.6,699.6L247.1,699.2L249.6,698.7L252.0,698.1L254.4,697.4L256.7,696.6L259.0,695.8L261.1,695.0L263.1,694.1L265.1,693.3L266.9,692.5L268.7,691.7L270.4,690.9L272.0,690.0L273.6,689.1L275.0,688.2L276.3,687.4L277.5,686.5L278.6,685.8L279.6,685.0L280.6,684.4L281.5,683.8L282.4,683.1L283.3,682.5L284.2,682.0L285.0,681.4L285.7,680.9L286.5,680.4L287.2,679.8L288.0,679.3L288.7,678.8Z" stroke="#a3a3a3" stroke-width="8.1"/><path d="M289.6,678.2L290.6,677.5L291.6,676.8L292.5,676.0L293.5,675.3L294.5,674.6L295.4,673.9L296.4,673.3L297.3,672.6L298.3,672.0L299.2,671.4L300.3,670.8L301.3,670.2L302.3,669.6L303.4,669.1L304.4,668.5L305.5,668.0L306.6,667.4L307.8,666.9L309.0,666.4L310.3,665.9L311.8,665.3L313.2,664.7L314.8,664.2L316.4,663.6L318.0,663.0L319.6,662.5L321.3,662.0L323.0,661.5L324.7,661.1L326.4,660.6L328.2,660.2L330.0,659.9L331.9,659.5L333.8,659.2L335.8,658.9L337.7,658.6L339.7,658.3L341.6,658.1L343.5,657.9L345.4,657.8L347.4,657.7L349.4,657.6L351.4,657.5L353.4,657.5L355.4,657.5L357.3,657.5L359.1,657.6L360.8,657.8L362.4,657.9L363.8,658.2L365.1,658.5L366.4,658.8L367.6,659.2L368.8,659.6L369.8,660.1L370.8,660.5L371.6,661.0L372.4,661.5L373.1,662.1L373.7,662.6L374.2,663.1L374.6,663.7L375.1,664.3L375.5,665.0L375.8,665.7L376.1,666.4L376.4,667.1L376.5,667.8L376.6,668.6L376.7,669.3L376.7,670.1L376.7,671.0L376.5,671.9L376.4,672.9L376.1,673.9L375.8,674.9L375.5,675.8L375.1,676.6L374.6,677.4L374.1,678.0L373.5,678.7L372.7,679.5L371.8,680.3L370.7,681.1L369.6,681.9L368.4,682.6L367.1,683.3L365.7,683.9L364.4,684.5L363.0,685.0L361.6,685.5L360.0,685.8L358.3,686.2L356.6,686.4L354.7,686.7L352.8,686.9L350.8,687.0L348.8,687.1L346.9,687.2L344.9,687.2L343.1,687.2L341.2,687.1L339.3,687.1L337.4,686.9L335.5,686.7L333.6,686.5L331.7,686.3L329.8,686.0L328.0,685.7L326.3,685.3L324.6,685.0L323.0,684.5L321.3,684.1L319.7,683.6L318.0,683.0L316.4,682.5L314.8,681.9L313.3,681.3L311.8,680.7L310.3,680.2L309.0,679.6L307.8,679.1L306.6,678.6L305.5,678.0L304.4,677.5L303.4,676.9L302.3,676.4L301.3,675.8L300.3,675.2L299.2,674.6L298.3,674.0L297.3,673.4L296.4,672.8L295.5,672.1L294.6,671.5L293.6,670.8L292.7,670.1L291.7,669.3L290.7,668.6L289.7,667.9L288.7,667.2L287.8,666.5L286.9,665.9L286.0,665.2L285.0,664.4L284.0,663.7L282.9,662.9L281.7,662.1L280.5,661.3L279.2,660.6L278.0,659.8L276.7,659.1L275.4,658.4L274.0,657.6L272.5,656.8L271.0,656.0L269.4,655.3L267.8,654.5L266.0,653.8L264.2,653.1L262.4,652.4L260.5,651.8L258.5,651.1L256.5,650.5L254.4,649.9L252.2,649.3L250.0,648.7L247.7,648.2L245.4,647.7L243.0,647.3L240.6,646.9L238.1,646.6L235.6,646.3L233.0,646.1L230.4,645.9L227.7,645.7L225.1,645.6L222.6,645.6L220.1,645.6L217.7,645.7L215.4,645.9L213.1,646.1L210.8,646.3L208.6,646.6L206.4,647.0L204.2,647.5L202.1,648.1L200.0,648.7L198.0,649.5L196.1,650.4L194.2,651.5L192.5,652.7L190.9,654.0L189.5,655.4L188.1,656.9L186.9,658.4L185.9,660.0L185.0,661.6L184.2,663.3L183.5,665.0L183.0,666.9L182.7,668.8L182.5,670.6L182.6,672.5L182.7,674.3L183.0,676.2L183.4,677.9L184.0,679.7L184.7,681.4L185.5,683.0L186.4,684.5L187.4,686.0L188.5,687.4L189.7,688.8L191.0,690.2L192.5,691.4L194.1,692.6L195.7,693.8L197.5,694.8L199.4,695.7L201.4,696.6L203.5,697.3L205.6,697.9L207.8,698.4L210.0,698.9L212.3,699.3L214.6,699.6L216.9,699.9L219.2,700.1L221.6,700.3L224.0,700.4L226.4,700.5L229.0,700.6L231.6,700.5L234.2,700.5L236.9,700.4L239.5,700.2L242.1,699.9L244.6,699.6L247.1,699.2L249.6,698.7L252.0,698.1L254.4,697.4L256.7,696.6L259.0,695.8L261.1,695.0L263.1,694.1L265.1,693.3L266.9,692.5L268.7,691.7L270.4,690.9L272.0,690.0L273.6,689.1L275.0,688.2L276.3,687.4L277.5,686.5L278.6,685.8L279.6,685.0L280.6,684.4L281.5,683.8L282.4,683.1L283.3,682.5L284.2,682.0L285.0,681.4L285.7,680.9L286.5,680.4L287.2,679.8L288.0,679.3L288.7,678.8Z" stroke="#fff" stroke-width="6.9"/><path d="M292.2,680.6L297.8,676.4L298.9,667.6L292.7,671.7Z M303.5,672.9L309.4,670.0L312.0,661.5L305.3,664.2Z M315.7,667.5L322.2,665.3L325.8,657.2L318.8,659.1Z M328.7,663.7L335.4,662.4L340.0,654.8L332.9,655.8Z M342.1,661.5L348.9,661.1L354.4,654.0L347.2,654.2Z M355.7,660.9L362.2,661.4L369.4,656.2L361.8,654.4Z M368.1,663.1L372.1,666.0L380.2,669.2L376.6,660.7Z M373.2,670.5L371.7,675.5L372.5,684.0L378.4,677.6Z M367.6,679.1L362.0,681.7L358.2,689.7L365.7,687.7Z M355.8,683.1L349.1,683.6L343.7,690.6L350.9,690.4Z M342.4,683.7L335.7,683.3L329.2,689.4L336.4,690.3Z M329.0,682.3L322.5,680.8L315.1,685.7L322.0,687.9Z M316.1,678.7L309.8,676.2L301.8,680.0L308.4,683.1Z M303.8,673.2L298.2,669.8L289.6,672.1L295.4,676.3Z M292.5,665.7L286.9,661.6L278.4,664.1L283.9,667.9Z M280.8,657.5L274.6,654.0L266.5,657.8L272.5,660.7Z M267.9,650.9L261.2,648.4L253.8,653.3L260.2,655.3Z M254.3,646.3L247.3,644.6L240.6,650.4L247.2,651.6Z M240.1,643.4L233.0,642.6L227.0,649.1L233.8,649.6Z M225.8,642.2L218.6,642.2L213.5,649.5L220.2,649.1Z M211.3,642.8L204.1,644.0L200.7,652.2L206.9,650.5Z M196.8,646.3L190.0,650.3L190.8,659.1L195.3,655.0Z M184.5,655.9L180.7,662.9L186.1,669.8L187.6,664.2Z M179.1,670.8L180.1,678.7L188.5,681.4L186.5,675.8Z M183.2,686.0L188.1,692.1L196.8,690.3L192.1,686.3Z M194.3,696.9L201.3,700.2L208.5,695.1L202.3,693.2Z M208.5,702.1L215.7,703.2L221.9,696.8L215.1,696.2Z M222.9,703.8L230.1,704.0L235.5,697.0L228.7,697.1Z M237.2,703.8L244.5,703.1L248.8,695.3L242.2,696.4Z M251.7,701.7L258.7,699.6L261.5,691.1L255.1,693.5Z M265.4,696.9L272.0,693.9L273.4,685.1L267.7,688.3Z M278.4,690.1L284.1,686.2L284.8,677.3L279.1,681.2Z" fill="#3a3a3a" stroke="#3a3a3a" stroke-width="0.8" stroke-linejoin="round"/>
</g>
<rect x="282.8" y="656.3" width="7" height="33.2" fill="#fff" stroke="#9a9a9a" stroke-width="1.1"/>

<!-- ===== PLUG ===== -->
<g>
  <rect x="445.4" y="671.4" width="23.6" height="18.6" fill="#88cd88" stroke="#437343" stroke-width="1.5"/>
  <line x1="445.4" y1="680.6" x2="469" y2="680.6" stroke="#437343" stroke-width="1.5"/>
  <rect x="423.6" y="666.7" width="21.8" height="27.8" fill="#88cd88" stroke="#437343" stroke-width="1.5"/>
  <circle cx="437.2" cy="675.7" r="3.2" fill="#dfe6df" stroke="#3f5f3f" stroke-width="1.1"/>
  <circle cx="437.2" cy="685" r="3.2" fill="#dfe6df" stroke="#3f5f3f" stroke-width="1.1"/>
  <line x1="435.6" y1="677.2" x2="438.8" y2="674.2" stroke="#7a8a7a" stroke-width="0.8"/>
  <line x1="435.6" y1="686.5" x2="438.8" y2="683.5" stroke="#7a8a7a" stroke-width="0.8"/>
</g>
</svg>
</body></html>
